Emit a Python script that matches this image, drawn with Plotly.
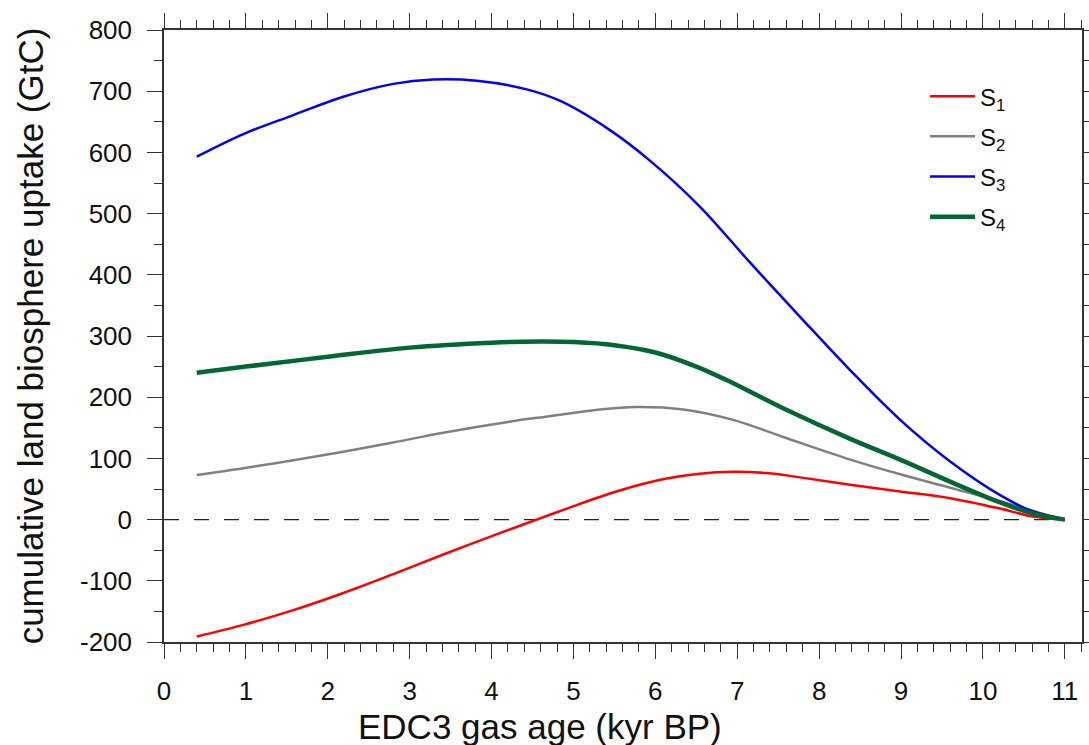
import plotly.graph_objects as go

# Gas age (kyr BP) and cumulative land biosphere uptake (GtC) for each scenario
age_s1 = [0.4, 0.97, 1.58, 2.19, 2.8, 3.41, 4.1, 4.55, 4.92, 5.32, 5.73, 6.14, 6.54, 6.95, 7.36, 7.77, 8.38, 8.99, 9.6, 10.21, 10.61, 11.0]
uptake_s1 = [-191, -172, -148, -120, -89, -57, -22, 0, 18, 37, 54, 67, 75, 78, 76, 69, 57, 46, 35, 18, 5, 0]

age_s2 = [0.4, 0.97, 1.58, 2.19, 2.8, 3.41, 4.22, 4.71, 5.32, 5.77, 6.34, 6.95, 7.56, 8.38, 8.99, 9.6, 10.21, 10.61, 11.0]
uptake_s2 = [73, 84, 97, 111, 126, 142, 160, 169, 180, 184, 180, 163, 135, 98, 74, 52, 30, 14, 0]

age_s3 = [0.4, 0.97, 1.58, 2.19, 2.8, 3.29, 3.82, 4.43, 4.84, 5.45, 5.93, 6.54, 7.15, 7.77, 8.38, 8.99, 9.6, 10.21, 10.6, 11.0]
uptake_s3 = [593, 630, 661, 691, 712, 719, 717, 703, 684, 636, 587, 512, 421, 331, 244, 163, 95, 40, 14, 0]

age_s4 = [0.4, 1.0, 2.0, 3.0, 4.0, 4.6, 5.0, 5.5, 6.0, 6.5, 6.87, 7.56, 8.38, 8.99, 9.6, 10.21, 10.61, 11.0]
uptake_s4 = [240, 250, 266, 281, 289, 291, 290, 285, 273, 250, 228, 182, 132, 98, 62, 28, 10, 0]

series_names = ["S<sub>1</sub>", "S<sub>2</sub>", "S<sub>3</sub>", "S<sub>4</sub>"]

x_tick_values = list(range(0, 12))
y_tick_values = [-200, -100, 0, 100, 200, 300, 400, 500, 600, 700, 800]
y_tick_labels = ["-200", "-100", "0", "100", "200", "300", "400", "500", "600", "700", "800"]

x_title = "EDC3 gas age (kyr BP)"
y_title = "cumulative land biosphere uptake (GtC)"

styles = [("#ff0000", 2.5), ("#808080", 2.5), ("#0000ff", 2.5), ("#036635", 4.5)]
data = [(age_s1, uptake_s1), (age_s2, uptake_s2), (age_s3, uptake_s3), (age_s4, uptake_s4)]

fig = go.Figure()
for i, (name, (xs, ys), (color, width)) in enumerate(zip(series_names, data, styles)):
    fig.add_trace(go.Scatter(
        x=xs, y=ys, name=name, mode="lines",
        line=dict(color=color, width=width, shape="spline", smoothing=1.0),
        legendgroup=f"g{i}",
    ))

# zero reference line
fig.add_shape(type="line", xref="x", yref="y", x0=0, x1=11, y0=0, y1=0,
              line=dict(color="#222222", width=1.2, dash="15px,15px"), layer="below")

font_family = "Liberation Sans, Arial, sans-serif"

axis_common = dict(
    showline=True, linecolor="#333333", linewidth=1.5, mirror="allticks",
    ticks="outside", ticklen=15, tickwidth=1.2, tickcolor="#333333",
    showgrid=False, zeroline=False, automargin=False,
    tickfont=dict(family=font_family, size=26, color="#111111"),
    title_font=dict(family=font_family, size=35, color="#111111"),
)

fig.update_xaxes(
    **axis_common,
    range=[0, 11.21], tickvals=x_tick_values, ticktext=[str(v) for v in x_tick_values],
    minor=dict(dtick=0.2, tick0=0, ticklen=8, tickwidth=1, tickcolor="#333333", ticks="outside"),
    ticklabelstandoff=10,
)
fig.update_yaxes(
    **axis_common,
    range=[-200, 800], tickvals=y_tick_values, ticktext=y_tick_labels,
    minor=dict(dtick=50, tick0=0, ticklen=8, tickwidth=1, tickcolor="#333333", ticks="outside"),
    ticklabelstandoff=10,
    title_text=y_title, title_standoff=26,
)

# x-axis title placed below the tick labels
fig.add_annotation(
    text=x_title, xref="paper", yref="paper", x=0.41, y=-0.138,
    xanchor="center", yanchor="middle", showarrow=False,
    font=dict(family=font_family, size=35, color="#111111"),
)

fig.update_layout(
    width=1089, height=745,
    margin=dict(l=164, r=7, t=30, b=103),
    paper_bgcolor="white", plot_bgcolor="white",
    font=dict(family=font_family, color="#111111"),
    legend=dict(
        x=0.829, y=0.928, xanchor="left", yanchor="top",
        font=dict(family=font_family, size=24, color="#111111"),
        bgcolor="rgba(0,0,0,0)", tracegroupgap=6, itemwidth=45,
    ),
)

fig.write_html("out.html")
